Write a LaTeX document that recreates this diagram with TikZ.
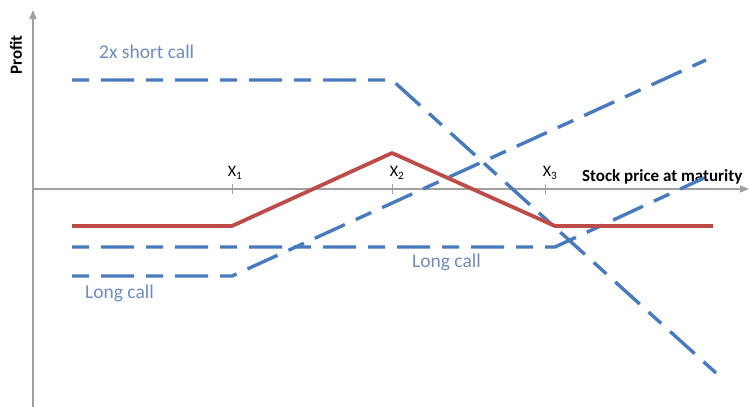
\documentclass[tikz,border=0pt]{standalone}
\usepackage{fontspec}
\setmainfont{Carlito}
\usetikzlibrary{arrows.meta}
\definecolor{callblue}{RGB}{72,122,190}
\definecolor{labelblue}{RGB}{110,140,190}
\definecolor{payred}{RGB}{190,75,72}
\definecolor{axisgray}{RGB}{160,160,160}
\tikzset{
  axisline/.style={draw=axisgray, line width=1.4pt, -{Triangle[length=9pt,width=7pt]}},
  tickmark/.style={draw=axisgray, line width=1pt},
  callline/.style={draw=callblue, line width=3.4pt, dash pattern=on 17pt off 12pt on 33pt off 12pt},
  payline/.style={draw=payred, line width=3.8pt, line join=round},
  leglabel/.style={text=labelblue, font=\fontsize{19.5}{22}\selectfont, inner sep=0pt},
  strike/.style={font=\fontsize{16}{18}\selectfont, inner sep=0pt},
  axislabel/.style={font=\bfseries\fontsize{17}{19}\selectfont, inner sep=0pt}
}
\begin{document}
\begin{tikzpicture}[x=1pt,y=-1pt]
\useasboundingbox (0,0) rectangle (750,407);
% axes
\coordinate (O) at (33,189);
\coordinate (ytop) at (33,10);
\coordinate (ybot) at (33,407);
\coordinate (xend) at (749,189);
\draw[axisline] (ybot) -- (ytop);
\draw[axisline] (O) -- (xend);
% ticks
\coordinate (k1) at (232,189);
\coordinate (k2) at (392,189);
\coordinate (k3) at (545,189);
\foreach \k in {k1,k2,k3} \draw[tickmark] ([yshift=-5pt]\k) -- ([yshift=5pt]\k);
\node[strike] (x1) at (235,173) {X\textsubscript{1}};
\node[strike] (x2) at (397,173) {X\textsubscript{2}};
\node[strike] (x3) at (550,173) {X\textsubscript{3}};
\node[axislabel, anchor=west] (xlab) at (582,177) {Stock price at maturity};
\node[axislabel, rotate=90] (ylab) at (16,55) {Profit};
% 2x short call
\coordinate (s0) at (72,80);
\coordinate (s1) at (392,80);
\coordinate (s2) at (716,373);
\draw[callline] (s0) -- (s1) -- (s2);
% long call X1
\coordinate (a0) at (72,276);
\coordinate (a1) at (232,276);
\coordinate (a2) at (706,60);
\draw[callline] (a0) -- (a1) -- (a2);
% long call X3
\coordinate (b0) at (72,247);
\coordinate (b1) at (555,247);
\coordinate (b2) at (704,178);
\draw[callline] (b0) -- (b1) -- (b2);
% payoff
\coordinate (p0) at (72,226);
\coordinate (p1) at (232,226);
\coordinate (p2) at (392,153);
\coordinate (p3) at (555,226);
\coordinate (p4) at (713,226);
\draw[payline] (p0) -- (p1) -- (p2) -- (p3) -- (p4);
% labels
\node[leglabel, anchor=west] (l1) at (99,52) {2x short call};
\node[leglabel, anchor=west] (l2) at (412,262) {Long call};
\node[leglabel, anchor=west] (l3) at (85,293) {Long call};
\end{tikzpicture}
\end{document}
